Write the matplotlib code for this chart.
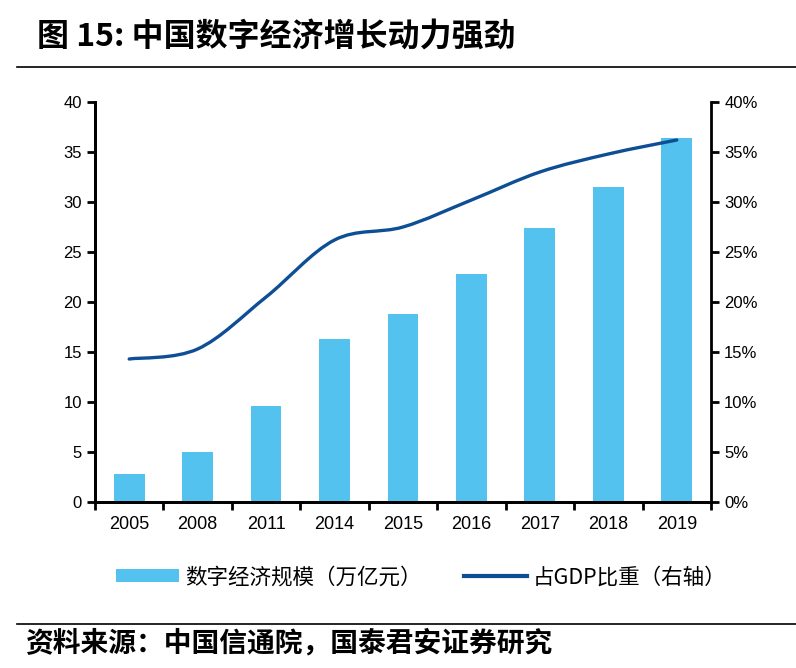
import matplotlib
matplotlib.use("Agg")
import matplotlib.pyplot as plt
from matplotlib.path import Path
from matplotlib.patches import PathPatch, Patch
from matplotlib.lines import Line2D
from matplotlib.ticker import FuncFormatter

plt.rcParams["font.family"] = ["Liberation Sans", "Noto Sans CJK SC", "DejaVu Sans"]

years = ["2005", "2008", "2011", "2014", "2015", "2016", "2017", "2018", "2019"]
scale = [2.8, 5.0, 9.6, 16.3, 18.8, 22.8, 27.4, 31.5, 36.4]
gdp_share = [14.3, 15.3, 20.5, 26.2, 27.5, 30.2, 33.0, 34.8, 36.2]

BAR_COLOR = "#54C2EF"
LINE_COLOR = "#0D4E94"
CJK = ["Noto Sans CJK SC", "DejaVu Sans"]


def smooth_path(xs, ys, tension=1 / 6):
    """Catmull-Rom style smoothed path (like Excel's smoothed line)."""
    verts = [(xs[0], ys[0])]
    codes = [Path.MOVETO]
    n = len(xs)
    for i in range(n - 1):
        x0, y0 = xs[max(i - 1, 0)], ys[max(i - 1, 0)]
        x1, y1 = xs[i], ys[i]
        x2, y2 = xs[i + 1], ys[i + 1]
        x3, y3 = xs[min(i + 2, n - 1)], ys[min(i + 2, n - 1)]
        c1 = (x1 + (x2 - x0) * tension, y1 + (y2 - y0) * tension)
        c2 = (x2 - (x3 - x1) * tension, y2 - (y3 - y1) * tension)
        verts += [c1, c2, (x2, y2)]
        codes += [Path.CURVE4] * 3
    return Path(verts, codes)


fig = plt.figure(figsize=(7.96, 6.68), dpi=100)
ax = fig.add_axes([0.1193, 0.2485, 0.7739, 0.5988])
ax2 = ax.twinx()

x = list(range(len(years)))
ax.bar(x, scale, width=0.45, color=BAR_COLOR, zorder=2)
ax.set_xlim(-0.5, len(years) - 0.5)
ax.set_ylim(0, 40)
ax.set_yticks(range(0, 41, 5))
ax.set_xticks([i - 0.5 for i in range(len(years) + 1)], minor=False)
ax.set_xticklabels([])
ax.set_xticks(x, minor=True)
ax.set_xticklabels(years, minor=True)
ax.tick_params(axis="x", which="minor", length=0, labelsize=13, pad=10)
ax.tick_params(axis="x", which="major", length=6, width=2, direction="out")
ax.tick_params(axis="y", length=6, width=2, labelsize=12, direction="out")

ax2.set_ylim(0, 40)
ax2.set_yticks(range(0, 41, 5))
ax2.yaxis.set_major_formatter(FuncFormatter(lambda v, p: f"{v:.0f}%"))
ax2.tick_params(axis="y", length=6, width=2, labelsize=12, direction="out")
ax2.add_patch(PathPatch(smooth_path(x, gdp_share), facecolor="none",
                        edgecolor=LINE_COLOR, lw=2.4, capstyle="round", zorder=3))

for a in (ax, ax2):
    a.spines["top"].set_visible(False)
    for side in ("left", "right", "bottom"):
        a.spines[side].set_linewidth(2)
ax.spines["right"].set_visible(False)

handles = [Patch(facecolor=BAR_COLOR, edgecolor="none"),
           Line2D([0], [0], color=LINE_COLOR, lw=3)]
labels = ["数字经济规模（万亿元）", "占GDP比重（右轴）"]
fig.legend(handles, labels, loc="center left", bbox_to_anchor=(0.146, 0.136), ncol=2,
           frameon=False, prop={"family": CJK, "size": 15.5}, handlelength=2.9,
           handleheight=0.6, columnspacing=2.0, handletextpad=0.28,
           borderpad=0, borderaxespad=0)

fig.text(0.046, 0.945, "图 15: 中国数字经济增长动力强劲", family=CJK,
         fontsize=23, fontweight="bold", va="center", ha="left")
fig.add_artist(Line2D([0.021, 1.0], [0.8997, 0.8997], color="black", lw=1.2))
fig.add_artist(Line2D([0.021, 1.0], [0.066, 0.066], color="black", lw=1.2))
fig.text(0.031, 0.0374, "资料来源：中国信通院，国泰君安证券研究", family=CJK,
         fontsize=20, fontweight="bold", va="center", ha="left")

fig.savefig("out.png", dpi=100)
